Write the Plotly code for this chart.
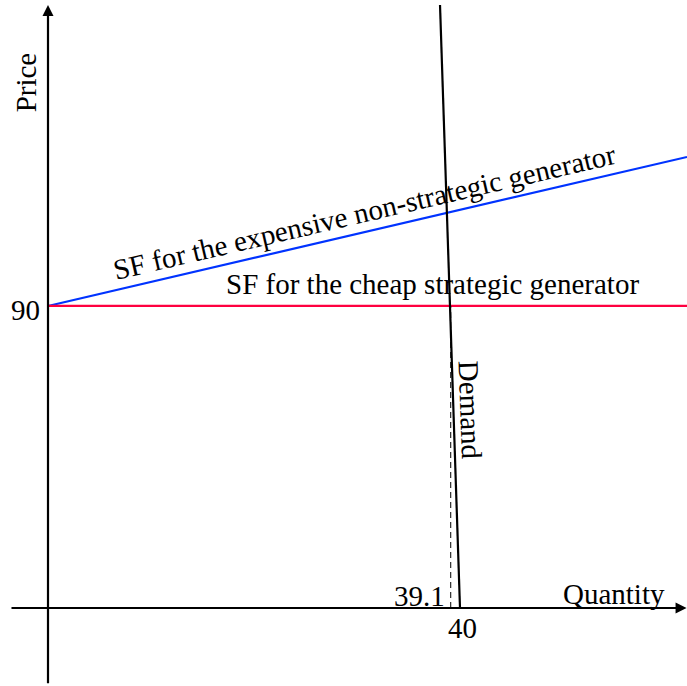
import plotly.graph_objects as go

# Data (economic units)
sf_exp_x = [0, 62.04]        # expensive non-strategic generator SF
sf_exp_p = [90, 134.4]
sf_cheap_x = [0, 62.04]      # cheap strategic generator SF
sf_cheap_p = [90, 90]
demand_x = [40, 38.06]
demand_p = [0, 179.7]
q_star = 39.1
q_tick = 40
price_tick = 90

X0, X1 = -4.66, 62.04
Y0, Y1 = -23.24, 181.17

FONT = "Liberation Serif"
FS = 29

fig = go.Figure()
fig.add_trace(go.Scatter(x=sf_exp_x, y=sf_exp_p, mode="lines",
                         line=dict(color="#0033ff", width=2.2), hoverinfo="skip"))
fig.add_trace(go.Scatter(x=sf_cheap_x, y=sf_cheap_p, mode="lines",
                         line=dict(color="#ff0040", width=2.2), hoverinfo="skip"))
fig.add_trace(go.Scatter(x=demand_x, y=demand_p, mode="lines",
                         line=dict(color="black", width=2.2), hoverinfo="skip"))
fig.add_trace(go.Scatter(x=[q_star, q_star], y=[0, price_tick], mode="lines",
                         line=dict(color="black", width=1, dash="6px,4px"), hoverinfo="skip"))

ann = []
# axes arrows
ann.append(dict(x=62.0, y=0, ax=-3.69, ay=0, xref="x", yref="y", axref="x", ayref="y",
                showarrow=True, arrowhead=2, arrowsize=1, arrowwidth=2.2, arrowcolor="black", text=""))
ann.append(dict(x=0, y=179.7, ax=0, ay=-22.9, xref="x", yref="y", axref="x", ayref="y",
                showarrow=True, arrowhead=2, arrowsize=1, arrowwidth=2.2, arrowcolor="black", text=""))

def txt(x, y, t, angle=0, xanchor="center", yanchor="middle"):
    ann.append(dict(x=x, y=y, xref="x", yref="y", text=t, showarrow=False,
                    textangle=angle, xanchor=xanchor, yanchor=yanchor,
                    font=dict(family=FONT, size=FS, color="black")))

txt(-2.05, 156.6, "Price", angle=-90)
txt(54.95, 4.2, "Quantity")
txt(-2.2, price_tick - 1.2, str(price_tick))
txt(36.1, 3.6, "39.1")
txt(40.2, -6.0, str(q_tick))
txt(37.3, 96.5, "SF for the cheap strategic generator")
txt(30.7, 118.0, "SF for the expensive non-strategic generator", angle=-13.1)
txt(41.0, 59.0, "Demand", angle=88)

fig.update_layout(
    width=687, height=686, margin=dict(l=0, r=0, t=0, b=0),
    paper_bgcolor="white", plot_bgcolor="white", showlegend=False,
    xaxis=dict(range=[X0, X1], visible=False, fixedrange=True),
    yaxis=dict(range=[Y0, Y1], visible=False, fixedrange=True),
    annotations=ann,
)
fig.write_html("out.html", config={"displayModeBar": False},
               post_script="document.body.style.margin='0';document.body.style.overflow='hidden';")
